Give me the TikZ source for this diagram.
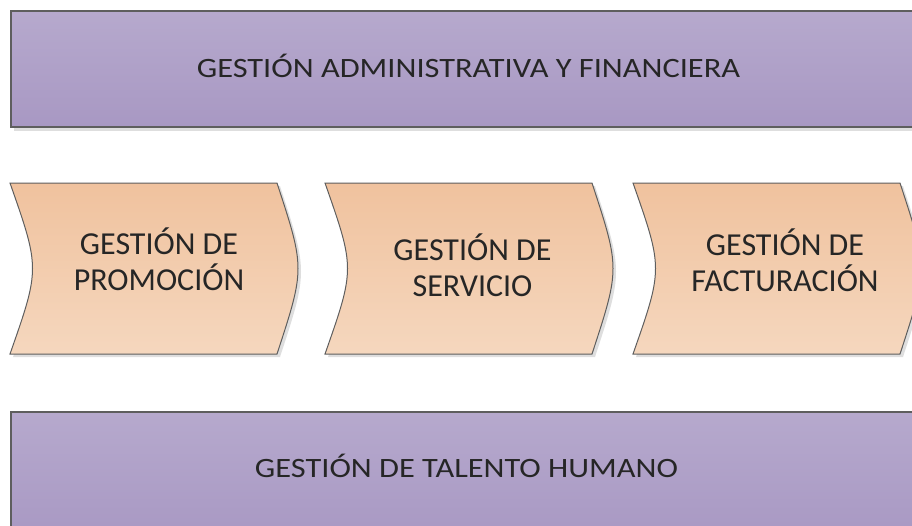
\documentclass[tikz,border=0pt]{standalone}
\usepackage{graphicx}
\usepackage{fontspec}
\setmainfont{Carlito}
\definecolor{purpT}{HTML}{B6A9CD}
\definecolor{purpB}{HTML}{A898C3}
\definecolor{orT}{HTML}{F0C29E}
\definecolor{orB}{HTML}{F5D7BE}
\definecolor{edgec}{HTML}{5E5E5E}
\definecolor{txt}{HTML}{262626}
\tikzset{
 bar/.style={top color=purpT,bottom color=purpB,draw=edgec,line width=1.2pt},
 chev/.style={top color=orT,bottom color=orB,draw=edgec,line width=1pt},
 shadowfill/.style={fill=black!13},
 lbl/.style={text=txt,font=\fontsize{28}{34}\selectfont,inner sep=0pt,anchor=base},
 clbl/.style={text=txt,font=\fontsize{32}{36}\selectfont,align=center,inner sep=0pt,anchor=base}
}
\begin{document}
\begin{tikzpicture}[x=1pt,y=-1pt]
\useasboundingbox (0,0) rectangle (912,525);
\clip (0,0) rectangle (912,525);
% top bar
\fill[shadowfill] (14,15) rectangle (930,131);
\path[bar] (11,11) rectangle (930,127);
\node[lbl] (top) at (468.5,77) {\scalebox{1.157}[1]{GESTIÓN ADMINISTRATIVA Y FINANCIERA}};
% bottom bar
\fill[shadowfill] (14,416) rectangle (930,545);
\path[bar] (11,412) rectangle (930,540);
\node[lbl] (bottom) at (466.5,477) {\scalebox{1.157}[1]{GESTIÓN DE TALENTO HUMANO}};
% process shapes
\foreach \x/\n/\t/\tx/\ty in {10/c1/{GESTIÓN DE\\PROMOCIÓN}/159/290, 325/c2/{GESTIÓN DE\\SERVICIO}/472.5/296, 633/c3/{GESTIÓN DE\\FACTURACIÓN}/785/291.5}{
  \fill[shadowfill,shift={(3,3)}] (\x,183) -- ({\x+267},183) .. controls ({\x+295},268.5) .. ({\x+267},354) -- (\x,354) .. controls ({\x+30},268.5) .. (\x,183) -- cycle;
  \path[chev] (\x,183) -- ({\x+267},183) .. controls ({\x+295},268.5) .. ({\x+267},354) -- (\x,354) .. controls ({\x+30},268.5) .. (\x,183) -- cycle;
  \node[clbl] (\n) at (\tx,\ty) {\t};
}
\end{tikzpicture}
\end{document}
